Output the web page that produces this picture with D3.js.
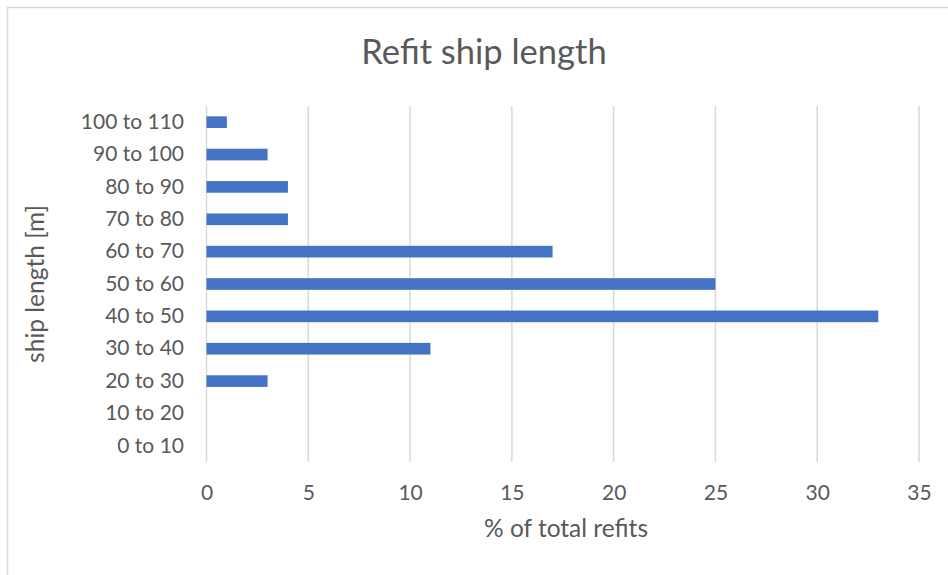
<!DOCTYPE html>
<html>
<head>
<meta charset="utf-8">
<script src="https://cdn.jsdelivr.net/npm/d3@7"></script>
<style>
  html, body { margin: 0; padding: 0; background: #fff; }
  svg { display: block; }
  text { font-family: Lato, "Open Sans", sans-serif; fill: #595959; }
</style>
</head>
<body>
<svg id="chart" width="948" height="575"></svg>
<script>
// Ship length classes, listed from shortest to longest
const categories = ["0 to 10", "10 to 20", "20 to 30", "30 to 40", "40 to 50", "50 to 60",
                    "60 to 70", "70 to 80", "80 to 90", "90 to 100", "100 to 110"];
// Share of all refits in each length class (%)
const refitShare = [0, 0, 3, 11, 33, 25, 17, 4, 4, 3, 1];
// Value axis ticks
const xTicks = [0, 5, 10, 15, 20, 25, 30, 35];

const title = "Refit ship length";
const xTitle = "% of total refits";
const yTitle = "ship length [m]";

const svg = d3.select("#chart");
const W = 948, H = 575;
const plot = { left: 206.5, right: 919, top: 106, bottom: 462 };

// Chart frame (top and left edges)
svg.append("path")
  .attr("d", `M7.5,${H} V7.5 H${W}`)
  .attr("fill", "none")
  .attr("stroke", "#d9d9d9")
  .attr("stroke-width", 1.5);

const x = d3.scaleLinear().domain([0, 35]).range([plot.left, plot.right]);
const y = d3.scaleBand()
  .domain(categories)
  .range([plot.bottom, plot.top])
  .paddingInner(0.64)
  .paddingOuter(0.32);

// Vertical gridlines
svg.append("g")
  .selectAll("line")
  .data(xTicks)
  .join("line")
  .attr("x1", d => x(d)).attr("x2", d => x(d))
  .attr("y1", plot.top).attr("y2", plot.bottom)
  .attr("stroke", "#d9d9d9")
  .attr("stroke-width", 1.5);

// Bars
svg.append("g")
  .selectAll("rect")
  .data(categories.map((c, i) => ({ c, v: refitShare[i] })))
  .join("rect")
  .attr("x", x(0))
  .attr("y", d => y(d.c))
  .attr("width", d => x(d.v) - x(0))
  .attr("height", y.bandwidth())
  .attr("fill", "#4472c4");

// Category axis labels
const yAxis = d3.axisLeft(y).tickSize(0).tickPadding(0);
const gy = svg.append("g")
  .attr("transform", `translate(${plot.left - 22.5},0)`)
  .call(yAxis);
gy.select(".domain").remove();
gy.selectAll("text")
  .attr("font-size", 21)
  .attr("fill", "#595959")
  .style("font-family", "Lato, sans-serif");

// Value axis labels
const xAxis = d3.axisBottom(x).tickValues(xTicks).tickSize(0).tickPadding(0);
const gx = svg.append("g")
  .attr("transform", `translate(0,${plot.bottom + 23})`)
  .call(xAxis);
gx.select(".domain").remove();
gx.selectAll("text")
  .attr("font-size", 21)
  .attr("fill", "#595959")
  .style("font-family", "Lato, sans-serif");

// Titles
svg.append("text")
  .attr("x", 484).attr("y", 64)
  .attr("text-anchor", "middle")
  .attr("font-size", 34.5)
  .text(title);

svg.append("text")
  .attr("x", 566).attr("y", 537)
  .attr("text-anchor", "middle")
  .attr("font-size", 24.5)
  .text(xTitle);

svg.append("text")
  .attr("transform", `translate(44,${(plot.top + plot.bottom) / 2}) rotate(-90)`)
  .attr("text-anchor", "middle")
  .attr("font-size", 24.5)
  .text(yTitle);
</script>
</body>
</html>
